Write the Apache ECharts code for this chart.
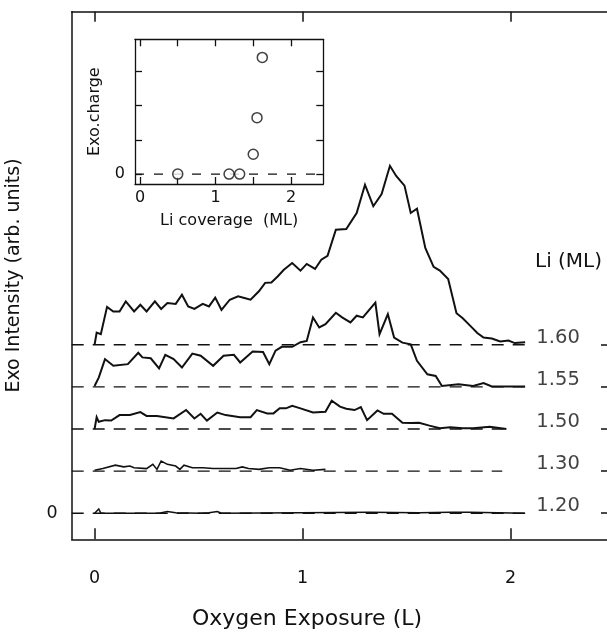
<!DOCTYPE html>
<html>
<head>
<meta charset="utf-8">
<script src="https://cdn.jsdelivr.net/npm/echarts@6/dist/echarts.min.js"></script>
<style>
html,body{margin:0;padding:0;background:#fff;}
#c{width:607px;height:634px;}
</style>
</head>
<body>
<div id="c"></div>
<script>
// ---- Data (Oxygen exposure in L, Exo intensity in arb. units above each curve's baseline) ----
const liLabels = ['1.20', '1.30', '1.50', '1.55', '1.60'];
const stackOffsets = [0, 1, 2, 3, 4];
const curveEnds = [2.07, 1.96, 1.98, 2.07, 2.09]; // end of dashed zero lines (L)

const curve120 = [[0,0],[0.02,0.10],[0.03,0],[0.31,0],[0.35,0.04],[0.39,0.01],[0.51,0],[0.55,0.01],[0.59,0.04],[0.61,0],[0.99,0.01],[1.32,0.02],[1.56,0.01],[1.71,0.02],[1.80,0.02],[2.07,0]];
const curve130 = [[0,0.02],[0.04,0.06],[0.10,0.14],[0.14,0.10],[0.17,0.12],[0.19,0.08],[0.25,0.06],[0.28,0.16],[0.30,0.04],[0.32,0.24],[0.35,0.16],[0.39,0.12],[0.41,0.04],[0.43,0.14],[0.47,0.08],[0.52,0.08],[0.57,0.06],[0.63,0.06],[0.68,0.06],[0.71,0.10],[0.74,0.06],[0.79,0.04],[0.84,0.08],[0.89,0.08],[0.94,0.02],[0.99,0.06],[1.05,0.02],[1.11,0.04]];
const curve150 = [[0,0],[0.01,0.28],[0.02,0.17],[0.05,0.21],[0.08,0.20],[0.12,0.33],[0.17,0.33],[0.22,0.40],[0.25,0.31],[0.30,0.31],[0.38,0.25],[0.44,0.45],[0.48,0.25],[0.51,0.36],[0.54,0.20],[0.59,0.39],[0.63,0.33],[0.70,0.28],[0.75,0.28],[0.78,0.45],[0.83,0.37],[0.86,0.37],[0.89,0.49],[0.92,0.49],[0.95,0.55],[0.99,0.49],[1.05,0.39],[1.11,0.41],[1.14,0.67],[1.18,0.53],[1.21,0.48],[1.25,0.45],[1.28,0.52],[1.31,0.21],[1.36,0.44],[1.39,0.36],[1.43,0.36],[1.48,0.15],[1.52,0.14],[1.56,0.15],[1.61,0.08],[1.66,0.02],[1.71,0.04],[1.77,0.02],[1.82,0.02],[1.90,0.05],[1.98,0]];
const curve155 = [[0,0.02],[0.02,0.22],[0.05,0.66],[0.09,0.50],[0.16,0.54],[0.21,0.81],[0.23,0.70],[0.27,0.68],[0.31,0.44],[0.34,0.76],[0.38,0.66],[0.42,0.46],[0.47,0.79],[0.51,0.74],[0.57,0.50],[0.62,0.74],[0.67,0.76],[0.70,0.58],[0.76,0.84],[0.81,0.83],[0.84,0.54],[0.87,0.86],[0.90,0.95],[0.95,0.95],[0.99,1.06],[1.02,1.09],[1.05,1.65],[1.08,1.41],[1.11,1.49],[1.16,1.76],[1.19,1.65],[1.23,1.53],[1.26,1.69],[1.29,1.65],[1.35,2.00],[1.37,1.25],[1.41,1.73],[1.44,1.17],[1.48,1.05],[1.52,1.01],[1.55,0.62],[1.60,0.30],[1.64,0.26],[1.67,0.02],[1.75,0.06],[1.82,0.02],[1.87,0.09],[1.91,0.01],[2.07,0.01]];
const curve160 = [[0,0],[0.01,0.29],[0.03,0.25],[0.06,0.90],[0.09,0.79],[0.12,0.79],[0.15,1.03],[0.19,0.79],[0.22,0.95],[0.25,0.79],[0.29,1.03],[0.32,0.85],[0.35,0.99],[0.39,0.97],[0.42,1.19],[0.45,0.91],[0.48,0.85],[0.52,0.97],[0.55,0.91],[0.58,1.12],[0.61,0.83],[0.65,1.07],[0.69,1.15],[0.72,1.11],[0.75,1.07],[0.79,1.27],[0.82,1.47],[0.85,1.48],[0.88,1.62],[0.91,1.78],[0.95,1.94],[0.99,1.76],[1.02,1.92],[1.06,1.80],[1.09,2.02],[1.12,2.11],[1.16,2.73],[1.21,2.75],[1.26,3.13],[1.30,3.80],[1.34,3.29],[1.38,3.58],[1.42,4.25],[1.45,4.01],[1.49,3.78],[1.52,3.13],[1.55,3.23],[1.59,2.30],[1.63,1.85],[1.66,1.76],[1.70,1.56],[1.74,0.75],[1.77,0.63],[1.81,0.43],[1.84,0.28],[1.87,0.17],[1.91,0.15],[1.95,0.08],[1.99,0.10],[2.02,0.04],[2.07,0.06]];
const curves = [curve120, curve130, curve150, curve155, curve160];

// Inset: Exo. charge vs Li coverage
const insetCoverage = [0.5, 1.18, 1.32, 1.5, 1.55, 1.62];
const insetCharge = [0, 0, 0, 0.58, 1.65, 3.41];

// Tick values
const mainXTicks = [0, 1, 2];
const insetXTicks = [0, 0.5, 1, 1.5, 2];
const insetXLabels = [0, 1, 2];
const insetYTicks = [0, 1, 2, 3];

// ---- Chart ----
const FONT = '"DejaVu Sans", "Liberation Sans", Arial, sans-serif';
const INK = '#111';
const chart = echarts.init(document.getElementById('c'), null, {renderer: 'canvas'});

const X0MIN = -0.11, X0MAX = 2.478, Y0MIN = -0.62, Y0MAX = 11.91;
const X1MIN = -0.066, X1MAX = 2.428, Y1MIN = -0.29, Y1MAX = 3.94;

function axisBase(extra) {
  return Object.assign({
    type: 'value',
    axisLine: {show: true, onZero: false, lineStyle: {color: INK, width: 1.5}},
    splitLine: {show: false},
    axisTick: {show: false},
    axisLabel: {show: false},
  }, extra);
}

const series = [];
// dashed baselines
curves.forEach((c, i) => {
  series.push({
    type: 'line', xAxisIndex: 0, yAxisIndex: 0, symbol: 'none', silent: true,
    data: [[X0MIN, stackOffsets[i]], [curveEnds[i], stackOffsets[i]]],
    lineStyle: {color: INK, width: 1.4, type: [12, 9]}, z: 2
  });
});
// curves
const widths = [1.5, 1.6, 2, 2, 2];
curves.forEach((c, i) => {
  series.push({
    type: 'line', xAxisIndex: 0, yAxisIndex: 0, symbol: 'none', silent: true,
    data: c.map(p => [p[0], p[1] + stackOffsets[i]]),
    lineStyle: {color: INK, width: widths[i], join: 'miter'}, z: 3
  });
});
// right-hand curve labels
series.push({
  type: 'scatter', xAxisIndex: 0, yAxisIndex: 0, symbolSize: 0, silent: true,
  data: liLabels.map((t, i) => ({value: [2.124, stackOffsets[i] + 0.17], name: t})),
  label: {show: true, position: 'right', distance: 0, formatter: p => p.name,
          color: INK, fontSize: 19.5, fontFamily: FONT}
});
// inset zero line
series.push({
  type: 'line', xAxisIndex: 2, yAxisIndex: 2, symbol: 'none', silent: true,
  data: [[X1MIN, 0], [X1MAX, 0]],
  lineStyle: {color: INK, width: 1.3, type: [9, 10]}, z: 2
});
// inset points
series.push({
  type: 'scatter', xAxisIndex: 2, yAxisIndex: 2, symbol: 'circle', symbolSize: 10,
  data: insetCoverage.map((x, i) => [x, insetCharge[i]]),
  itemStyle: {color: '#fff', borderColor: INK, borderWidth: 1.5}, z: 4
});

const option = {
  backgroundColor: '#fff',
  animation: false,
  textStyle: {fontFamily: FONT, color: INK},
  grid: [
    {left: 71.7, top: 11.7, right: -3, bottom: 94.7, containLabel: false, outerBoundsMode: 'none'},
    {left: 135, top: 39.3, width: 188.3, height: 144.7, containLabel: false, outerBoundsMode: 'none'}
  ],
  xAxis: [
    axisBase({gridIndex: 0, position: 'bottom', min: X0MIN, max: X0MAX,
      axisTick: {show: true, inside: true, length: 11, customValues: mainXTicks, lineStyle: {color: INK, width: 1.5}},
      axisLabel: {show: true, customValues: mainXTicks, margin: 30, fontSize: 17.5, color: INK, fontFamily: FONT}}),
    axisBase({gridIndex: 0, position: 'top', min: X0MIN, max: X0MAX,
      axisTick: {show: true, inside: true, length: 10, customValues: mainXTicks, lineStyle: {color: INK, width: 1.5}}}),
    axisBase({gridIndex: 1, position: 'bottom', min: X1MIN, max: X1MAX,
      name: 'Li coverage  (ML)', nameLocation: 'middle', nameGap: 29,
      nameTextStyle: {fontSize: 16, color: INK, fontFamily: FONT},
      axisLine: {show: true, onZero: false, lineStyle: {color: INK, width: 1.3}},
      axisTick: {show: true, inside: true, length: 7, customValues: insetXTicks, lineStyle: {color: INK, width: 1.3}},
      axisLabel: {show: true, customValues: insetXLabels, margin: 6, fontSize: 16, color: INK, fontFamily: FONT}}),
    axisBase({gridIndex: 1, position: 'top', min: X1MIN, max: X1MAX,
      axisLine: {show: true, onZero: false, lineStyle: {color: INK, width: 1.3}},
      axisTick: {show: true, inside: true, length: 7, customValues: insetXTicks, lineStyle: {color: INK, width: 1.3}}})
  ],
  yAxis: [
    axisBase({gridIndex: 0, position: 'left', min: Y0MIN, max: Y0MAX,
      name: 'Exo Intensity (arb. units)', nameLocation: 'middle', nameGap: 48,
      nameTextStyle: {fontSize: 19, color: INK, fontFamily: FONT},
      axisLabel: {show: true, customValues: [0], margin: 14, fontSize: 17.5, color: INK, fontFamily: FONT}}),
    axisBase({gridIndex: 0, position: 'right', min: Y0MIN, max: Y0MAX,
      axisTick: {show: true, inside: true, length: 9, customValues: stackOffsets, lineStyle: {color: INK, width: 1.5}}}),
    axisBase({gridIndex: 1, position: 'left', min: Y1MIN, max: Y1MAX,
      name: 'Exo.charge', nameLocation: 'middle', nameGap: 32,
      nameTextStyle: {fontSize: 16, color: INK, fontFamily: FONT},
      axisLine: {show: true, onZero: false, lineStyle: {color: INK, width: 1.3}},
      axisTick: {show: true, inside: true, length: 7, customValues: insetYTicks, lineStyle: {color: INK, width: 1.3}},
      axisLabel: {show: true, customValues: [0], margin: 10, fontSize: 16, color: INK, fontFamily: FONT}}),
    axisBase({gridIndex: 1, position: 'right', min: Y1MIN, max: Y1MAX,
      axisLine: {show: true, onZero: false, lineStyle: {color: INK, width: 1.3}},
      axisTick: {show: true, inside: true, length: 7, customValues: insetYTicks, lineStyle: {color: INK, width: 1.3}}})
  ],
  graphic: [
    {type: 'text', x: 192, y: 619, style: {text: 'Oxygen Exposure (L)', font: '22px ' + FONT, fill: INK, verticalAlign: 'middle'}},
    {type: 'text', x: 535, y: 262, style: {text: 'Li (ML)', font: '20px ' + FONT, fill: INK, verticalAlign: 'middle'}}
  ],
  series: series
};
chart.setOption(option);
</script>
</body>
</html>
